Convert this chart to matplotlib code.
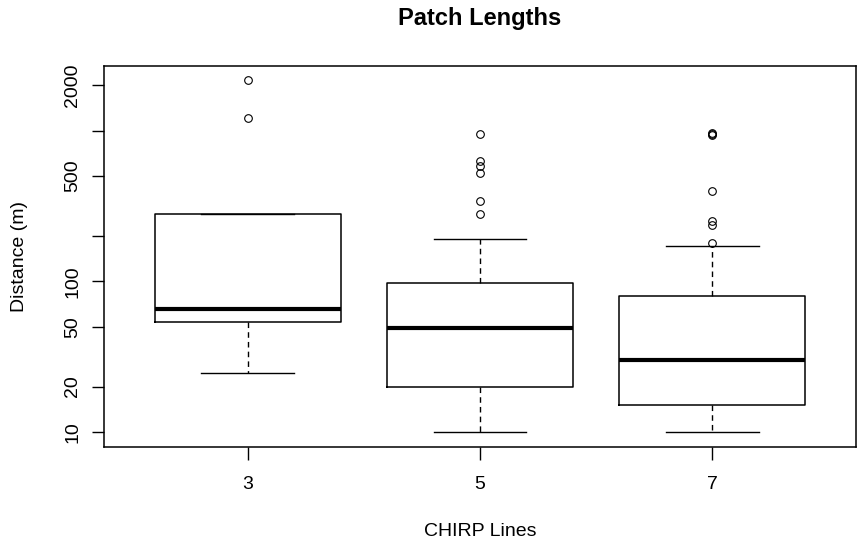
import numpy as np
import matplotlib.pyplot as plt
from matplotlib.ticker import FixedLocator, NullLocator

plt.rcParams['font.family'] = ['Liberation Sans', 'DejaVu Sans']

# patch length summaries per CHIRP line count (metres)
lines = ["3", "5", "7"]
q1 = [54, 20, 15]
medians = [65, 49, 30]
q3 = [278, 98, 80]
whisk_lo = [24.6, 10, 10]
whisk_hi = [278, 190, 172]
outliers = [
    [2164, 1215],
    [951, 634, 587, 527, 343, 278],
    [940, 950, 960, 400, 251, 236, 179],
]

stats = []
for i in range(len(lines)):
    stats.append(dict(label=lines[i], med=medians[i], q1=q1[i], q3=q3[i],
                      whislo=whisk_lo[i], whishi=whisk_hi[i], fliers=outliers[i]))

fig = plt.figure(figsize=(8.57, 5.50), dpi=100)
ax = fig.add_axes([104/857, 1 - 447/550, 752/857, 381/550])

ax.bxp(stats, positions=[1, 2, 3], widths=0.8, capwidths=0.4,
       boxprops=dict(color="black", linewidth=1.1),
       medianprops=dict(color="black", linewidth=3),
       whiskerprops=dict(color="black", linewidth=1, linestyle=(0, (4, 3))),
       capprops=dict(color="black", linewidth=1),
       flierprops=dict(marker="o", markersize=5.5, markerfacecolor="none",
                       markeredgecolor="black", markeredgewidth=0.8))

ax.set_yscale("log")
ax.set_ylim(7.94, 2690)
ax.set_xlim(0.38, 3.62)

yticks = [10, 20, 50, 100, 200, 500, 1000, 2000]
ylabels = ["10", "20", "50", "100", "", "500", "", "2000"]
ax.yaxis.set_major_locator(FixedLocator(yticks))
ax.yaxis.set_minor_locator(NullLocator())
ax.set_yticklabels(ylabels, rotation=90, va="center", fontsize=14)
ax.set_xticks([1, 2, 3])
ax.set_xticklabels(lines, fontsize=14)

ax.tick_params(axis="y", length=8.5, width=1, pad=8)
ax.tick_params(axis="x", length=9, width=1, pad=12)
for sp in ax.spines.values():
    sp.set_linewidth(1.1)

ax.set_xlabel("CHIRP Lines", fontsize=14, va="center")
ax.xaxis.set_label_coords(0.5, (447 - 531) / 381)
ax.set_ylabel("Distance (m)", fontsize=14, va="center")
ax.yaxis.set_label_coords((20 - 104) / 752, 0.5)
ax.set_title("Patch Lengths", fontsize=17, fontweight="bold", va="center",
             y=(447 - 18) / 381, pad=0)

fig.savefig("out.png", dpi=100)
